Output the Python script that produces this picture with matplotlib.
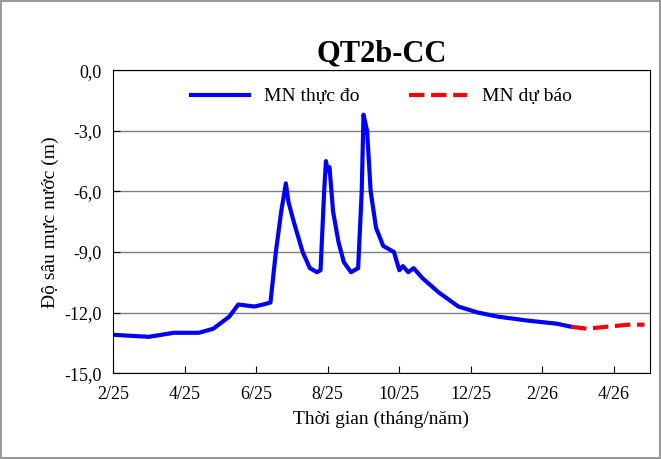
import matplotlib.pyplot as plt

# x in months since 1 Feb 2025
obs_x = [0.0, 1.0, 1.7, 2.4, 2.8, 3.25, 3.5, 3.95, 4.2, 4.4, 4.55, 4.7, 4.83, 4.9, 5.05,
         5.3, 5.5, 5.7, 5.8, 5.9, 5.95, 6.0, 6.05, 6.15, 6.3, 6.45, 6.65, 6.85, 6.95,
         7.0, 7.1, 7.2, 7.35, 7.55, 7.85, 8.0, 8.1, 8.25, 8.4, 8.65, 9.1, 9.65, 10.2,
         10.75, 11.6, 12.4, 12.8]
obs_y = [-13.1, -13.2, -13.0, -13.0, -12.8, -12.2, -11.6, -11.7, -11.6, -11.5, -9.0, -7.0,
         -5.6, -6.5, -7.5, -9.0, -9.8, -10.0, -9.9, -6.0, -4.5, -5.0, -4.8, -7.0, -8.5,
         -9.5, -10.0, -9.8, -6.0, -2.2, -3.0, -6.0, -7.8, -8.7, -9.0, -9.9, -9.7, -10.0,
         -9.8, -10.3, -11.0, -11.7, -12.0, -12.2, -12.4, -12.55, -12.7]
fc_x = [12.8, 13.25, 13.8, 14.4, 14.85]
fc_y = [-12.7, -12.8, -12.7, -12.6, -12.6]
tick_labels = ["2/25", "4/25", "6/25", "8/25", "10/25", "12/25", "2/26", "4/26"]

plt.rcParams['font.family'] = ['Liberation Serif', 'DejaVu Serif']
fig = plt.figure(figsize=(6.61, 4.59), dpi=100)
fig.patch.set_edgecolor('#999999')
fig.patch.set_linewidth(1.5)
ax = fig.add_axes([0.171, 0.187, 0.812, 0.66])

ax.plot(obs_x, obs_y, color='#0000ff', lw=3, label='MN thực đo')
ax.plot(fc_x, fc_y, color='#ff0000', lw=3, ls='--', label='MN dự báo')

ax.set_xlim(0, 15)
ax.set_ylim(-15, 0)
ax.set_xticks(range(0, 16, 2))
ax.set_xticklabels(tick_labels, fontsize=13)
ax.set_yticks(range(-15, 1, 3))
ax.set_yticklabels([f"{v:.1f}".replace('.', ',') for v in range(-15, 1, 3)], fontsize=13)
ax.yaxis.grid(True, color='#808080', lw=1)
ax.tick_params(axis='both', direction='in', length=5)
ax.tick_params(axis='x', pad=9)
ax.tick_params(axis='y', pad=8)
ax.set_title('QT2b-CC', fontsize=22, fontweight='bold', pad=6)
ax.set_xlabel('Thời gian (tháng/năm)', fontsize=14, labelpad=6)
ax.set_ylabel('Độ sâu mực nước (m)', fontsize=14)
ax.legend(loc='upper center', ncol=2, frameon=False, fontsize=14, handlelength=3,
          columnspacing=2.5, bbox_to_anchor=(0.5, 1.0))

fig.savefig('out.png', dpi=100, edgecolor=fig.get_edgecolor())
